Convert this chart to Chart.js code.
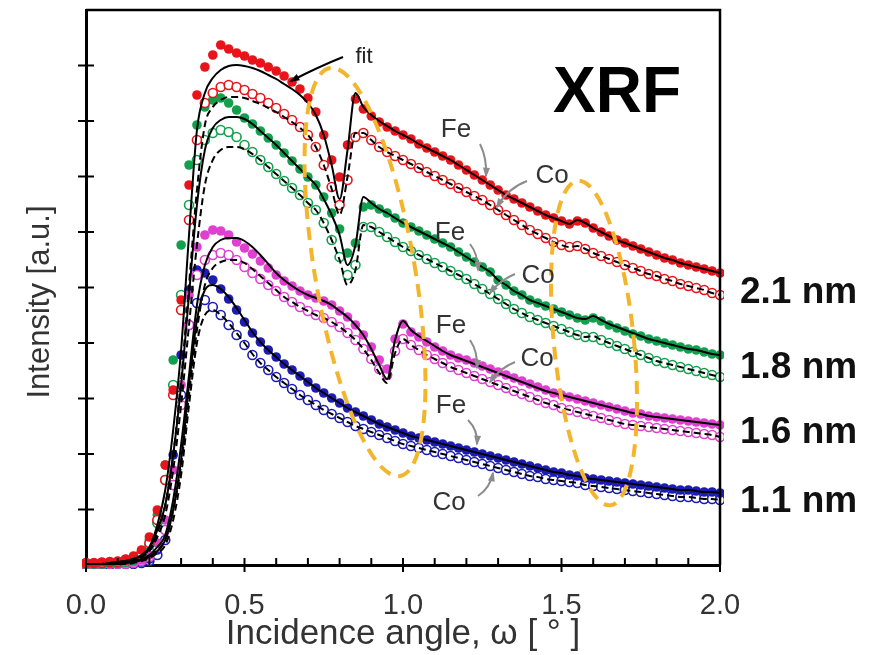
<!DOCTYPE html>
<html>
<head>
<meta charset="utf-8">
<script src="https://cdn.jsdelivr.net/npm/chart.js@4/dist/chart.umd.min.js"></script>
<style>
html, body { margin: 0; padding: 0; background: #fff; }
</style>
</head>
<body>
<canvas id="xrfChart" width="872" height="655"></canvas>
<script>
// incidence angle grid (deg)
const angle = [0, 0.025, 0.05, 0.075, 0.1, 0.125, 0.15, 0.175, 0.2, 0.225,
    0.25, 0.275, 0.3, 0.325, 0.35, 0.375, 0.4, 0.425, 0.45, 0.475,
    0.5, 0.525, 0.55, 0.575, 0.6, 0.625, 0.65, 0.675, 0.7, 0.725,
    0.75, 0.775, 0.8, 0.825, 0.85, 0.875, 0.9, 0.925, 0.95, 0.975,
    1.0, 1.025, 1.05, 1.075, 1.1, 1.125, 1.15, 1.175, 1.2, 1.225,
    1.25, 1.275, 1.3, 1.325, 1.35, 1.375, 1.4, 1.425, 1.45, 1.475,
    1.5, 1.525, 1.55, 1.575, 1.6, 1.625, 1.65, 1.675, 1.7, 1.725,
    1.75, 1.775, 1.8, 1.825, 1.85, 1.875, 1.9, 1.925, 1.95, 1.975,
    2.0]

// measured intensity, 2.1 nm
const fe21 = [2, 2, 3, 3, 4, 6, 9, 15, 28, 55,
    100, 175, 265, 380, 470, 498, 510, 520, 516, 512,
    509, 505, 502, 498, 494, 489, 483, 476, 467, 453,
    430, 405, 388, 420, 466, 456, 449, 443, 438, 434,
    430, 426, 421, 417, 413, 409, 405, 400, 395, 390,
    385, 380, 375, 370, 366, 362, 358, 354, 350, 347,
    344, 341, 344, 342, 337, 333, 329, 325, 322, 319,
    316, 313, 310, 307, 305, 302, 300, 298, 296, 294,
    292]
const co21 = [2, 2, 2, 3, 3, 5, 7, 12, 22, 45,
    85, 170, 255, 345, 425, 462, 472, 478, 480, 478,
    475, 471, 467, 462, 457, 451, 445, 438, 430, 418,
    400, 378, 360, 385, 428, 432, 425, 418, 413, 409,
    405, 401, 397, 393, 389, 385, 381, 377, 373, 369,
    365, 360, 355, 350, 345, 340, 335, 331, 327, 323,
    320, 318, 319, 316, 312, 309, 306, 303, 300, 297,
    294, 291, 289, 286, 284, 281, 279, 277, 275, 272,
    270]

// 1.8 nm
const fe18 = [1, 1, 2, 2, 3, 4, 6, 12, 25, 50,
    100, 205, 320, 400, 440, 458, 465, 467, 462, 455,
    447, 441, 434, 427, 420, 412, 404, 396, 388, 380,
    368, 352, 336, 312, 322, 358, 360, 356, 352, 347,
    342, 338, 334, 330, 326, 322, 318, 313, 308, 303,
    298, 293, 285, 280, 274, 270, 265, 262, 259, 256,
    253, 250, 247, 245, 247, 244, 240, 237, 234, 231,
    229, 226, 224, 222, 220, 218, 216, 215, 213, 211,
    210]
const co18 = [1, 1, 1, 2, 2, 3, 5, 10, 20, 42,
    85, 180, 270, 360, 405, 425, 432, 435, 433, 428,
    420, 413, 405, 398, 391, 384, 377, 370, 362, 355,
    342, 325, 308, 290, 300, 338, 338, 333, 328, 323,
    318, 314, 310, 306, 302, 298, 294, 290, 286, 281,
    276, 271, 266, 261, 256, 252, 248, 245, 242, 239,
    236, 233, 230, 228, 228, 225, 222, 219, 216, 213,
    210, 207, 204, 202, 200, 198, 196, 194, 192, 190,
    188]

// 1.6 nm
const fe16 = [0, 0, 1, 1, 1, 2, 3, 5, 10, 22,
    45, 95, 180, 270, 318, 330, 335, 334, 330, 323,
    317, 311, 304, 297, 290, 284, 279, 274, 270, 267,
    264, 260, 254, 248, 240, 230, 218, 205, 196, 226,
    241, 233, 228, 223, 218, 214, 210, 207, 205, 202,
    199, 196, 193, 190, 187, 184, 181, 178, 175, 172,
    170, 168, 166, 164, 162, 160, 158, 156, 154, 152,
    151, 149, 148, 147, 146, 145, 144, 143, 142, 141,
    140]
const co16 = [0, 0, 0, 1, 1, 1, 2, 4, 8, 18,
    35, 80, 160, 240, 290, 305, 310, 312, 310, 305,
    298, 292, 286, 280, 274, 268, 263, 258, 254, 250,
    247, 243, 238, 232, 225, 216, 206, 196, 190, 214,
    226, 220, 215, 210, 206, 202, 198, 195, 192, 189,
    186, 183, 180, 177, 174, 171, 168, 165, 162, 160,
    157, 155, 153, 151, 149, 147, 145, 143, 141, 140,
    139, 138, 137, 136, 135, 134, 133, 132, 131, 130,
    128]

// 1.1 nm
const fe11 = [0, 0, 0, 1, 1, 1, 2, 3, 6, 15,
    35, 110, 210, 275, 295, 292, 285, 276, 266, 255,
    243, 232, 223, 215, 208, 201, 195, 189, 183, 177,
    172, 167, 162, 157, 153, 149, 145, 141, 138, 135,
    132, 129, 127, 125, 123, 121, 119, 117, 115, 113,
    111, 109, 107, 105, 103, 101, 99, 97, 95, 93,
    92, 90, 89, 87, 86, 85, 84, 83, 82, 81,
    80, 79, 78, 77, 76, 75, 75, 74, 73, 73,
    72]
const co11 = [0, 0, 0, 0, 1, 1, 1, 2, 4, 10,
    25, 80, 170, 240, 262, 265, 258, 250, 240, 230,
    220, 210, 202, 195, 188, 182, 176, 170, 165, 160,
    155, 151, 147, 143, 139, 136, 133, 130, 127, 124,
    121, 119, 117, 115, 113, 111, 109, 107, 105, 103,
    101, 99, 97, 95, 93, 91, 89, 88, 86, 85,
    84, 83, 82, 80, 79, 78, 77, 76, 75, 74,
    73, 72, 71, 70, 69, 68, 68, 67, 66, 66,
    65]

// fitted curves
const fitFe21 = [0, 1, 1, 2, 3, 4, 6, 10, 18, 40,
    75, 135, 215, 330, 435, 472, 487, 495, 499, 500,
    499, 497, 494, 490, 486, 481, 476, 470, 462, 450,
    430, 400, 366, 415, 472, 458, 450, 444, 439, 434,
    430, 426, 421, 417, 413, 409, 405, 400, 395, 390,
    385, 380, 375, 370, 366, 362, 358, 354, 350, 347,
    344, 341, 345, 342, 337, 333, 329, 325, 322, 319,
    316, 313, 310, 307, 305, 302, 300, 298, 296, 294,
    292]
const fitCo21 = [0, 1, 1, 2, 2, 3, 5, 8, 15, 32,
    60, 110, 185, 280, 375, 440, 458, 465, 468, 468,
    467, 464, 461, 457, 453, 448, 443, 437, 430, 418,
    400, 376, 350, 388, 432, 432, 425, 418, 413, 409,
    405, 401, 397, 393, 389, 385, 381, 377, 373, 369,
    365, 360, 355, 350, 345, 340, 335, 331, 327, 323,
    320, 318, 319, 316, 312, 309, 306, 303, 300, 297,
    294, 291, 289, 286, 284, 281, 279, 277, 275, 272,
    270]
const fitFe18 = [0, 1, 1, 2, 3, 4, 6, 9, 16, 35,
    60, 110, 180, 270, 360, 415, 437, 445, 448, 448,
    446, 441, 434, 427, 420, 412, 404, 396, 388, 380,
    366, 350, 330, 300, 320, 368, 362, 356, 352, 347,
    342, 338, 334, 330, 326, 322, 318, 313, 308, 303,
    298, 293, 285, 280, 274, 270, 265, 262, 259, 256,
    253, 250, 247, 246, 249, 245, 241, 238, 235, 232,
    229, 226, 224, 222, 220, 218, 216, 215, 213, 211,
    210]
const fitCo18 = [0, 1, 1, 2, 2, 3, 5, 8, 14, 28,
    50, 95, 160, 240, 320, 380, 405, 415, 418, 418,
    416, 411, 405, 398, 391, 384, 377, 370, 362, 355,
    342, 325, 305, 280, 295, 340, 338, 333, 328, 323,
    318, 314, 310, 306, 302, 298, 294, 290, 286, 281,
    276, 271, 266, 261, 256, 252, 248, 245, 242, 239,
    236, 233, 230, 228, 229, 225, 222, 219, 216, 213,
    210, 207, 204, 202, 200, 198, 196, 194, 192, 190,
    188]
const fitFe16 = [0, 0, 1, 1, 2, 3, 4, 6, 10, 18,
    30, 65, 120, 190, 260, 300, 318, 325, 327, 327,
    324, 318, 310, 301, 292, 285, 279, 274, 270, 267,
    264, 260, 254, 248, 240, 230, 216, 200, 186, 225,
    244, 235, 229, 224, 219, 214, 210, 207, 204, 201,
    198, 195, 192, 189, 186, 183, 180, 177, 174, 172,
    170, 168, 166, 164, 162, 160, 158, 156, 154, 152,
    151, 149, 148, 147, 146, 145, 144, 143, 142, 141,
    140]
const fitCo16 = [0, 0, 0, 1, 1, 2, 3, 5, 8, 15,
    25, 55, 100, 170, 235, 280, 297, 303, 305, 305,
    302, 296, 289, 282, 275, 268, 263, 258, 254, 250,
    247, 243, 238, 232, 225, 216, 205, 192, 182, 212,
    226, 220, 215, 210, 206, 202, 198, 195, 192, 189,
    186, 183, 180, 177, 174, 171, 168, 165, 162, 160,
    157, 155, 153, 151, 149, 147, 145, 143, 141, 140,
    139, 138, 137, 136, 135, 134, 133, 132, 131, 130,
    128]
const fitFe11 = [0, 0, 0, 1, 1, 2, 3, 5, 8, 14,
    25, 55, 105, 180, 245, 275, 280, 276, 268, 257,
    245, 233, 223, 215, 208, 201, 195, 189, 183, 177,
    172, 167, 162, 157, 153, 149, 145, 141, 138, 135,
    132, 129, 127, 125, 123, 121, 119, 117, 115, 113,
    111, 109, 107, 105, 103, 101, 99, 97, 95, 93,
    92, 90, 89, 87, 86, 85, 84, 83, 82, 81,
    80, 79, 78, 77, 76, 75, 75, 74, 73, 73,
    72]
const fitCo11 = [0, 0, 0, 0, 1, 1, 2, 4, 7, 12,
    20, 45, 90, 160, 222, 250, 255, 250, 242, 232,
    222, 211, 202, 195, 188, 182, 176, 170, 165, 160,
    155, 151, 147, 143, 139, 136, 133, 130, 127, 124,
    121, 119, 117, 115, 113, 111, 109, 107, 105, 103,
    101, 99, 97, 95, 93, 91, 89, 88, 86, 85,
    84, 83, 82, 80, 79, 78, 77, 76, 75, 74,
    73, 72, 71, 70, 69, 68, 68, 67, 66, 66,
    65]

const thickness = ["2.1 nm", "1.8 nm", "1.6 nm", "1.1 nm"]

const FONT = "'Liberation Sans', Arial, sans-serif"
const RED = "#e8141b", GREEN = "#12a04e", PINK = "#e040d0", BLUE = "#1c1cb4"

function points(ys) {
    return angle.map((x, i) => ({ x: x, y: ys[i] }))
}

function measured(label, ys, color, filled) {
    return {
        label: label,
        data: points(ys),
        showLine: false,
        pointRadius: filled ? 4.8 : 4.5,
        pointBorderWidth: filled ? 0 : 1.6,
        pointBackgroundColor: filled ? color : "#ffffff",
        pointBorderColor: color,
        clip: 4,
        order: 2
    }
}

function fit(label, ys, dashed) {
    return {
        label: label,
        data: points(ys),
        showLine: true,
        pointRadius: 0,
        borderColor: "#000",
        borderWidth: 2,
        borderDash: dashed ? [7, 4] : [],
        cubicInterpolationMode: "monotone",
        order: 1
    }
}

function arrow(ctx, x0, y0, cx, cy, x1, y1, color) {
    ctx.strokeStyle = color
    ctx.fillStyle = color
    ctx.lineWidth = 2
    ctx.setLineDash([])
    ctx.beginPath()
    ctx.moveTo(x0, y0)
    ctx.quadraticCurveTo(cx, cy, x1, y1)
    ctx.stroke()
    const a = Math.atan2(y1 - cy, x1 - cx)
    ctx.beginPath()
    ctx.moveTo(x1 + 2 * Math.cos(a), y1 + 2 * Math.sin(a))
    ctx.lineTo(x1 - 9 * Math.cos(a - 0.4), y1 - 9 * Math.sin(a - 0.4))
    ctx.lineTo(x1 - 9 * Math.cos(a + 0.4), y1 - 9 * Math.sin(a + 0.4))
    ctx.closePath()
    ctx.fill()
}

const decorations = {
    id: "decorations",
    afterDatasetsDraw(chart) {
        const ctx = chart.ctx
        const a = chart.chartArea
        const xs = chart.scales.x, ys = chart.scales.y
        ctx.save()

        // highlighted regions
        ctx.strokeStyle = "#f4b52c"
        ctx.lineWidth = 4
        ctx.setLineDash([13, 8])
        ctx.beginPath()
        ctx.ellipse(365, 272, 50, 207, -0.17, 0, Math.PI * 2)
        ctx.stroke()
        ctx.beginPath()
        ctx.ellipse(594, 343, 40, 163, -0.1, 0, Math.PI * 2)
        ctx.stroke()
        ctx.setLineDash([])

        // frame top / right
        ctx.strokeStyle = "#000"
        ctx.lineWidth = 2.5
        ctx.beginPath()
        ctx.moveTo(a.left, a.top)
        ctx.lineTo(a.right, a.top)
        ctx.lineTo(a.right, a.bottom)
        ctx.stroke()

        // tick marks
        ctx.lineWidth = 2
        for (let k = 0; k <= 20; k++) {
            const px = xs.getPixelForValue(k / 10)
            ctx.beginPath()
            if (k % 5 === 0) {
                ctx.moveTo(px, a.bottom - 7)
                ctx.lineTo(px, a.bottom + 7)
            } else {
                ctx.moveTo(px, a.bottom - 7)
                ctx.lineTo(px, a.bottom)
            }
            ctx.stroke()
        }
        for (let k = 1; k < 10; k++) {
            const py = ys.getPixelForValue(k * 55.5)
            ctx.beginPath()
            ctx.moveTo(a.left - 8, py)
            ctx.lineTo(a.left + 8, py)
            ctx.stroke()
        }

        // y title
        ctx.fillStyle = "#333"
        ctx.font = "31px " + FONT
        ctx.textAlign = "center"
        ctx.textBaseline = "middle"
        ctx.save()
        ctx.translate(40, 302)
        ctx.rotate(-Math.PI / 2)
        ctx.fillText("Intensity [a.u.]", 0, 0)
        ctx.restore()

        // labels
        ctx.textBaseline = "alphabetic"
        ctx.fillStyle = "#000"
        ctx.font = "bold 64px " + FONT
        ctx.fillText("XRF", 617, 112)

        ctx.fillStyle = "#222"
        ctx.font = "22px " + FONT
        ctx.fillText("fit", 364, 63)
        arrow(ctx, 343, 57, 318, 67, 291, 81, "#000")

        ctx.fillStyle = "#333"
        ctx.font = "26px " + FONT
        const fe = [[456, 137], [450, 240], [451, 333], [451, 413]]
        const co = [[552, 183], [538, 283], [537, 366], [449, 510]]
        fe.forEach(p => ctx.fillText("Fe", p[0], p[1]))
        co.forEach(p => ctx.fillText("Co", p[0], p[1]))

        const grey = "#8c8c8c"
        arrow(ctx, 480, 144, 487, 158, 486, 176, grey)
        arrow(ctx, 527, 181, 508, 188, 497, 207, grey)
        arrow(ctx, 470, 244, 478, 254, 478, 270, grey)
        arrow(ctx, 515, 274, 500, 280, 490, 293, grey)
        arrow(ctx, 470, 340, 478, 352, 477, 368, grey)
        arrow(ctx, 515, 362, 500, 368, 490, 382, grey)
        arrow(ctx, 468, 420, 478, 430, 477, 444, grey)
        arrow(ctx, 478, 496, 490, 488, 493, 473, grey)

        // thickness labels
        ctx.fillStyle = "#111"
        ctx.font = "bold 37px " + FONT
        ctx.textAlign = "left"
        const base = [303, 378, 443, 512]
        thickness.forEach((t, i) => ctx.fillText(t, 740, base[i]))

        ctx.restore()
    }
}

const xrfChart = new Chart(
    document.getElementById("xrfChart"),
    {
        type: "scatter",
        data: {
            datasets: [
                fit("fit Fe 2.1", fitFe21, false),
                fit("fit Co 2.1", fitCo21, true),
                fit("fit Fe 1.8", fitFe18, false),
                fit("fit Co 1.8", fitCo18, true),
                fit("fit Fe 1.6", fitFe16, false),
                fit("fit Co 1.6", fitCo16, true),
                fit("fit Fe 1.1", fitFe11, false),
                fit("fit Co 1.1", fitCo11, true),
                measured("Fe 2.1 nm", fe21, RED, true),
                measured("Co 2.1 nm", co21, RED, false),
                measured("Fe 1.8 nm", fe18, GREEN, true),
                measured("Co 1.8 nm", co18, GREEN, false),
                measured("Fe 1.6 nm", fe16, PINK, true),
                measured("Co 1.6 nm", co16, PINK, false),
                measured("Fe 1.1 nm", fe11, BLUE, true),
                measured("Co 1.1 nm", co11, BLUE, false)
            ]
        },
        options: {
            responsive: false,
            animation: false,
            events: [],
            layout: { padding: { top: 10, right: 152, left: 0, bottom: 0 } },
            plugins: { legend: { display: false }, tooltip: { enabled: false } },
            scales: {
                x: {
                    type: "linear",
                    min: 0,
                    max: 2,
                    afterFit: s => { s.height = 90 },
                    grid: { display: false, drawTicks: false },
                    border: { display: true, color: "#000", width: 3 },
                    ticks: {
                        stepSize: 0.5,
                        padding: 24,
                        color: "#333",
                        font: { family: FONT, size: 29 },
                        callback: v => v.toFixed(1)
                    },
                    title: {
                        display: true,
                        text: "Incidence angle, \u03c9 [ \u00b0 ]",
                        color: "#333",
                        font: { family: FONT, size: 35 },
                        padding: { top: 0, bottom: 0 }
                    }
                },
                y: {
                    type: "linear",
                    min: 0,
                    max: 555,
                    afterFit: s => { s.width = 86 },
                    grid: { display: false, drawTicks: false },
                    border: { display: true, color: "#000", width: 3 },
                    ticks: { display: false, stepSize: 55.5 }
                }
            }
        },
        plugins: [decorations]
    }
)
</script>
</body>
</html>
